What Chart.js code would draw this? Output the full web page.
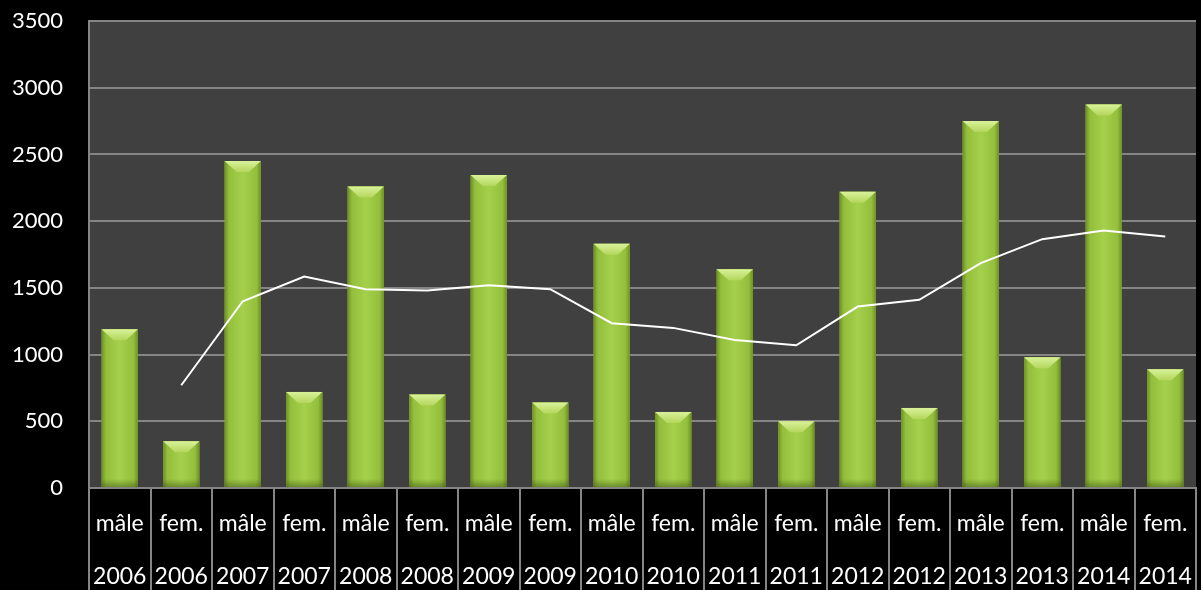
<!DOCTYPE html>
<html>
<head>
<meta charset="utf-8">
<script src="https://cdn.jsdelivr.net/npm/chart.js@4.4.1/dist/chart.umd.min.js"></script>
<style>
  html, body { margin: 0; padding: 0; background: #000; }
  #wrap { width: 1201px; height: 590px; }
</style>
</head>
<body>
<div id="wrap"><canvas id="chart"></canvas></div>
<script>
// categories: sex / year
const sexes = ["mâle", "fem.", "mâle", "fem.", "mâle", "fem.", "mâle", "fem.", "mâle",
               "fem.", "mâle", "fem.", "mâle", "fem.", "mâle", "fem.", "mâle", "fem."];
const years = ["2006", "2006", "2007", "2007", "2008", "2008", "2009", "2009", "2010",
               "2010", "2011", "2011", "2012", "2012", "2013", "2013", "2014", "2014"];

// bar values
const counts = [1190, 350, 2450, 720, 2260, 700, 2345, 640, 1830,
                570, 1640, 500, 2220, 600, 2750, 980, 2875, 890];

// white trend line (starts at the second category)
const trend = [null, 770, 1400, 1585, 1490, 1480, 1520, 1490, 1235,
               1200, 1110, 1070, 1360, 1410, 1685, 1865, 1930, 1885];

const yTicks = [0, 500, 1000, 1500, 2000, 2500, 3000, 3500];

const labels = sexes.map((s, i) => [s, years[i]]);
const gridGray = "#858585";

// dark plot area behind the bars
const plotBackground = {
  id: "plotBackground",
  beforeDraw(chart) {
    const { ctx, chartArea: a } = chart;
    ctx.save();
    ctx.fillStyle = "#404040";
    ctx.fillRect(a.left, a.top, a.right - a.left, a.bottom - a.top);
    ctx.restore();
  }
};

// paint the bars with a rounded-looking gradient and a bevelled top
const bevelBars = {
  id: "bevelBars",
  afterDatasetDraw(chart, args) {
    if (args.index !== 0) return;
    const ctx = chart.ctx;
    ctx.save();
    args.meta.data.forEach(bar => {
      const w = bar.width;
      const x0 = bar.x - w / 2, x1 = bar.x + w / 2;
      const top = bar.y, base = bar.base;
      const g = ctx.createLinearGradient(x0, 0, x1, 0);
      g.addColorStop(0, "#6e9024");
      g.addColorStop(0.12, "#94bf3c");
      g.addColorStop(0.5, "#a5d04c");
      g.addColorStop(0.88, "#94bf3c");
      g.addColorStop(1, "#6e9024");
      ctx.fillStyle = g;
      ctx.fillRect(x0, top, w, base - top);

      const bev = Math.min(11, (base - top) / 2);
      const inset = Math.min(12, w / 3);
      const tg = ctx.createLinearGradient(0, top, 0, top + bev);
      tg.addColorStop(0, "#d9f29a");
      tg.addColorStop(1, "#b3d65c");
      ctx.fillStyle = tg;
      ctx.beginPath();
      ctx.moveTo(x0, top);
      ctx.lineTo(x1, top);
      ctx.lineTo(x1 - inset, top + bev);
      ctx.lineTo(x0 + inset, top + bev);
      ctx.closePath();
      ctx.fill();

      // slight shading near the base
      const bg = ctx.createLinearGradient(0, base - 8, 0, base);
      bg.addColorStop(0, "rgba(60,80,20,0)");
      bg.addColorStop(1, "rgba(60,80,20,0.5)");
      ctx.fillStyle = bg;
      ctx.fillRect(x0, base - 8, w, 8);
    });
    ctx.restore();
  }
};

new Chart(document.getElementById("chart"), {
  data: {
    labels: labels,
    datasets: [
      {
        type: "bar",
        data: counts,
        backgroundColor: "#9bc644",
        barPercentage: 0.59,
        categoryPercentage: 1,
        order: 1
      },
      {
        type: "line",
        data: trend,
        borderColor: "#ffffff",
        borderWidth: 2,
        pointRadius: 0,
        tension: 0,
        spanGaps: false,
        order: 0
      }
    ]
  },
  options: {
    responsive: true,
    maintainAspectRatio: false,
    devicePixelRatio: 1,
    animation: false,
    layout: { padding: { top: 21, right: 5, left: 0, bottom: 0 } },
    plugins: {
      legend: { display: false },
      tooltip: { enabled: false }
    },
    scales: {
      x: {
        offset: true,
        grid: {
          display: true,
          offset: true,
          drawOnChartArea: false,
          drawTicks: true,
          tickLength: 102,
          color: gridGray,
          lineWidth: 2
        },
        border: { display: true, color: gridGray, width: 2 },
        ticks: {
          color: "#ffffff",
          padding: -93,
          maxRotation: 0,
          autoSkip: false,
          font: { family: "Lato", size: 23, lineHeight: 53 / 23 }
        },
        afterFit(scale) { scale.height = 102; }
      },
      y: {
        min: 0,
        max: 3500,
        afterBuildTicks(scale) { scale.ticks = yTicks.map(v => ({ value: v })); },
        grid: {
          color: gridGray,
          lineWidth: 2,
          drawTicks: true,
          tickLength: 26,
          tickColor: "rgba(0,0,0,0)"
        },
        border: { display: true, color: gridGray, width: 2 },
        ticks: {
          color: "#ffffff",
          padding: 0,
          font: { family: "Lato", size: 22 },
          callback: v => String(v)
        },
        afterFit(scale) { scale.width = 89; }
      }
    }
  },
  plugins: [plotBackground, bevelBars]
});
</script>
</body>
</html>
